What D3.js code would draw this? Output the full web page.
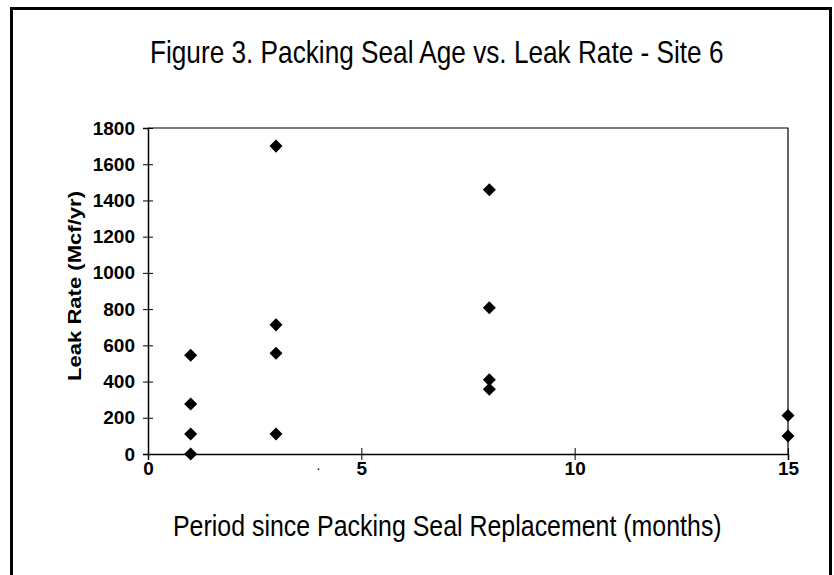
<!DOCTYPE html>
<html>
<head>
<meta charset="utf-8">
<script src="https://cdn.jsdelivr.net/npm/d3@7"></script>
<style>
  body { margin: 0; background: #fff; }
  text { font-family: "Liberation Sans", Arial, sans-serif; }
</style>
</head>
<body>
<div id="chart"></div>
<script>
// Data
const months = [1, 1, 1, 1, 3, 3, 3, 3, 8, 8, 8, 8, 15, 15];
const leakRates = [545, 276, 110, 0, 1700, 713, 556, 110, 1459, 808, 410, 357, 212, 99];
const xTicks = [0, 5, 10, 15];
const yTicks = [0, 200, 400, 600, 800, 1000, 1200, 1400, 1600, 1800];

const width = 834;
const height = 575;
const margin = { top: 128, right: 46, bottom: 121, left: 148 };
const innerWidth = width - margin.left - margin.right;
const innerHeight = height - margin.top - margin.bottom;

const svg = d3.select("#chart")
  .append("svg")
  .attr("width", width)
  .attr("height", height);

// outer frame (bottom edge runs off the picture)
svg.append("path")
  .attr("d", `M11.5,${height + 5} V8.5 H830.5 V${height + 5}`)
  .attr("fill", "none")
  .attr("stroke", "#000")
  .attr("stroke-width", 3);

// title, narrow face like the original
svg.append("text")
  .attr("x", 150 / 0.845)
  .attr("y", 63)
  .attr("font-size", 31)
  .attr("transform", "scale(0.845,1)")
  .text("Figure 3. Packing Seal Age vs. Leak Rate - Site 6");

const g = svg.append("g")
  .attr("transform", `translate(${margin.left}, ${margin.top})`);

const x = d3.scaleLinear().domain([0, 15]).range([0, innerWidth]);
const y = d3.scaleLinear().domain([0, 1800]).range([innerHeight, 0]);

// plot box (top and right edges)
g.append("path")
  .attr("d", `M0,0 H${innerWidth} V${innerHeight}`)
  .attr("fill", "none")
  .attr("stroke", "#000")
  .attr("stroke-width", 1.2);

// y axis
const yAxis = g.append("g")
  .call(d3.axisLeft(y).tickValues(yTicks).tickFormat(d3.format("d")).tickSize(5).tickPadding(8));
yAxis.select(".domain").attr("stroke-width", 1.5);
yAxis.selectAll(".tick line").attr("x2", 5).attr("x1", -5);
yAxis.selectAll(".tick text")
  .attr("font-size", 19)
  .attr("font-weight", "bold")
  .attr("font-family", "Liberation Sans, Arial, sans-serif");

// x axis
const xAxis = g.append("g")
  .attr("transform", `translate(0, ${innerHeight})`)
  .call(d3.axisBottom(x).tickValues(xTicks).tickFormat(d3.format("d")).tickSize(6).tickPadding(2));
xAxis.select(".domain").attr("stroke-width", 1.5);
xAxis.selectAll(".tick line").attr("y1", -6).attr("y2", 6);
xAxis.selectAll(".tick text")
  .attr("font-size", 19)
  .attr("font-weight", "bold")
  .attr("font-family", "Liberation Sans, Arial, sans-serif");

// stray dot in the scan
g.append("text")
  .attr("x", x(3.95))
  .attr("y", innerHeight + 16)
  .attr("font-size", 14)
  .text(".");

// axis titles
svg.append("text")
  .attr("transform", "translate(81, 286) rotate(-90)")
  .attr("text-anchor", "middle")
  .attr("font-size", 18)
  .attr("font-weight", "bold")
  .attr("textLength", 190)
  .attr("lengthAdjust", "spacingAndGlyphs")
  .text("Leak Rate (Mcf/yr)");

svg.append("text")
  .attr("x", 173 / 0.86)
  .attr("y", 536)
  .attr("font-size", 29)
  .attr("transform", "scale(0.86,1)")
  .text("Period since Packing Seal Replacement (months)");

// diamond markers
const diamond = d3.symbol().type(d3.symbolSquare).size(85);
g.selectAll("path.pt")
  .data(months.map((m, i) => ({ m, v: leakRates[i] })))
  .enter().append("path")
    .attr("class", "pt")
    .attr("d", diamond)
    .attr("transform", d => `translate(${x(d.m)}, ${y(d.v)}) rotate(45)`)
    .attr("fill", "#000");
</script>
</body>
</html>
